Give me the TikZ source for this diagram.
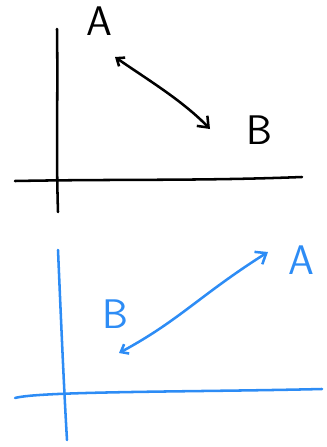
\documentclass[tikz,border=0pt]{standalone}
\usepackage{tikz}
\usetikzlibrary{arrows.meta}
\definecolor{penblue}{RGB}{45,140,245}
\tikzset{%
  pen/.style={line width=1.9pt, line cap=round, line join=round},
  vec/.style={pen, {Straight Barb[length=5pt,width=8pt]}-{Straight Barb[length=7pt,width=11pt]}},
  letter/.style={font=\sffamily\fontsize{31}{34}\selectfont, inner sep=0pt},
}

\begin{document}
\begin{tikzpicture}[x=0.75pt, y=-0.75pt]
    \useasboundingbox (0,0) rectangle (326,447);

    % upper sketch (black)
    \coordinate (Y1) at (57,29);
    \coordinate (Y1b) at (58,212);
    \coordinate (X1a) at (15,181);
    \coordinate (X1) at (302,177);
    \coordinate (P1) at (115,57);
    \coordinate (Q1) at (210,129);

    %axes
    \draw[pen] (Y1) .. controls (58,100) and (56,150) .. (Y1b);
    \draw[pen] (X1a) .. controls (120,179) and (200,181) .. (X1);

    \node[letter] (labA) at (99,21) {A};
    \node[letter] (labB) at (259,130) {B};

    %vector from A to B
    \draw[vec] (P1) .. controls (145,78) and (182,100) .. (Q1);

    % lower sketch (blue)
    \coordinate (Y2) at (58,250);
    \coordinate (Y2b) at (67,440);
    \coordinate (X2a) at (15,398);
    \coordinate (X2) at (322,389);
    \coordinate (P2) at (119,353);
    \coordinate (Q2) at (268,252);

    %axes
    \draw[pen, penblue] (Y2) .. controls (61,320) and (64,390) .. (Y2b);
    \draw[pen, penblue] (X2a) .. controls (40,391) and (200,392) .. (X2);

    \node[letter, text=penblue] (labA2) at (301,260) {A};
    \node[letter, text=penblue] (labB2) at (115,314) {B};

    %vector from B to A
    \draw[vec, penblue] (P2) .. controls (180,320) and (200,295) .. (Q2);

\end{tikzpicture}
\end{document}
